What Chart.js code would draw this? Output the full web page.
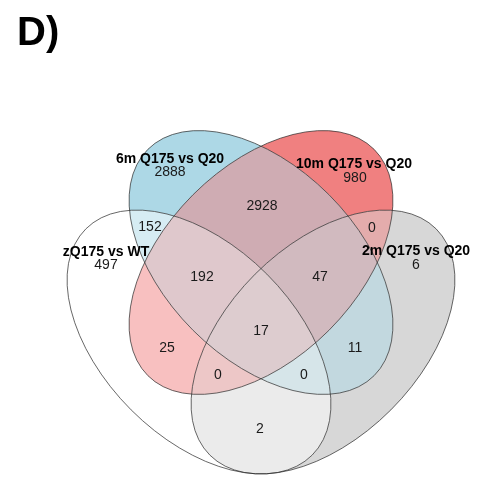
<!DOCTYPE html>
<html>
<head>
<meta charset="utf-8">
<script src="https://cdn.jsdelivr.net/npm/chart.js@4/dist/chart.umd.min.js"></script>
<style>
html,body{margin:0;padding:0;background:#fff;}
canvas{display:block;}
</style>
</head>
<body>
<canvas id="c" width="477" height="480"></canvas>
<script>
// ---- data ----
const panelTitle = "D)";
const setKeys = ["A", "B", "C", "D"];
const setNames = ["zQ175 vs WT", "6m Q175 vs Q20", "10m Q175 vs Q20", "2m Q175 vs Q20"];
const regionKeys = ["A", "B", "C", "D", "AB", "AC", "AD", "BC", "BD", "CD", "ABC", "ABD", "ACD", "BCD", "ABCD"];
const regionCounts = [497, 2888, 980, 6, 152, 25, 2, 2928, 11, 0, 192, 0, 0, 47, 17];

// ---- layout (plot units) & styles ----
const setColors = [[255,255,255],[173,216,230],[240,128,128],[215,215,215]];
const ellipseGeom = {
  A: {cx:199, cy:342, a:160, b:96, rot:45},
  B: {cx:261, cy:262.5, a:160, b:96, rot:45},
  C: {cx:261, cy:262.5, a:160, b:96, rot:-45},
  D: {cx:323, cy:342, a:160, b:96, rot:-45}
};
const countPos = {
  A:[106,265], B:[170,172], C:[355,178], D:[416,265],
  AB:[150,227], AC:[167,348], AD:[260,429], BC:[262,206], BD:[355,348], CD:[372,228],
  ABC:[202,277], ABD:[304,375], ACD:[218,375], BCD:[320,277], ABCD:[261,331]
};
const namePos = {A:[106,252], B:[170,159], C:[354,164], D:[416,251]};
const titlePos = [17, 34];
const FONT = "'Liberation Sans', Arial, Helvetica, sans-serif";

const points = regionKeys.map(k => ({x: countPos[k][0], y: countPos[k][1]}));

function ellipsePath(ctx, chart, g) {
  const xs = chart.scales.x, ys = chart.scales.y;
  const cx = xs.getPixelForValue(g.cx), cy = ys.getPixelForValue(g.cy);
  const rx = Math.abs(xs.getPixelForValue(g.cx + g.a) - cx);
  const ry = Math.abs(ys.getPixelForValue(g.cy + g.b) - cy);
  ctx.ellipse(cx, cy, rx, ry, g.rot * Math.PI / 180, 0, Math.PI * 2);
}

const vennPlugin = {
  id: 'venn',
  beforeDatasetsDraw(chart) {
    const ctx = chart.ctx;
    const W = chart.width, H = chart.height;
    // fill each of the 15 regions with the mean colour of its sets
    for (let mask = 1; mask < 16; mask++) {
      ctx.save();
      const members = [];
      setKeys.forEach((k, i) => {
        ctx.beginPath();
        if (mask & (1 << i)) {
          members.push(i);
          ellipsePath(ctx, chart, ellipseGeom[k]);
          ctx.clip();
        } else {
          ctx.rect(-10, -10, W + 20, H + 20);
          ellipsePath(ctx, chart, ellipseGeom[k]);
          ctx.clip('evenodd');
        }
      });
      const c = [0,1,2].map(j => Math.round(members.reduce((s, i) => s + setColors[i][j], 0) / members.length));
      ctx.fillStyle = `rgb(${c[0]},${c[1]},${c[2]})`;
      ctx.fillRect(0, 0, W, H);
      ctx.restore();
    }
    // outlines
    ctx.save();
    ctx.strokeStyle = 'rgba(40,40,40,0.7)';
    ctx.lineWidth = 1;
    setKeys.forEach(k => {
      ctx.beginPath();
      ellipsePath(ctx, chart, ellipseGeom[k]);
      ctx.stroke();
    });
    ctx.restore();
  },
  afterDatasetsDraw(chart) {
    const ctx = chart.ctx;
    const xs = chart.scales.x, ys = chart.scales.y;
    const meta = chart.getDatasetMeta(0);
    ctx.save();
    ctx.textAlign = 'center';
    ctx.textBaseline = 'middle';
    ctx.fillStyle = '#1a1a1a';
    ctx.font = `14px ${FONT}`;
    meta.data.forEach((el, i) => {
      ctx.fillText(String(regionCounts[i]), el.x, el.y);
    });
    ctx.fillStyle = '#000';
    ctx.font = `bold 14px ${FONT}`;
    setKeys.forEach((k, i) => {
      ctx.fillText(setNames[i], xs.getPixelForValue(namePos[k][0]), ys.getPixelForValue(namePos[k][1]));
    });
    ctx.textAlign = 'left';
    ctx.font = `bold 40px ${FONT}`;
    ctx.fillText(panelTitle, xs.getPixelForValue(titlePos[0]), ys.getPixelForValue(titlePos[1]));
    ctx.restore();
  }
};

new Chart(document.getElementById('c'), {
  type: 'scatter',
  data: { datasets: [{ data: points, pointRadius: 0, pointHoverRadius: 0, showLine: false }] },
  options: {
    responsive: false,
    animation: false,
    events: [],
    layout: { padding: 0 },
    plugins: { legend: { display: false }, tooltip: { enabled: false }, title: { display: false } },
    scales: {
      x: { type: 'linear', min: 0, max: 477, display: false },
      y: { type: 'linear', min: 0, max: 480, reverse: true, display: false }
    }
  },
  plugins: [vennPlugin]
});
</script>
</body>
</html>
